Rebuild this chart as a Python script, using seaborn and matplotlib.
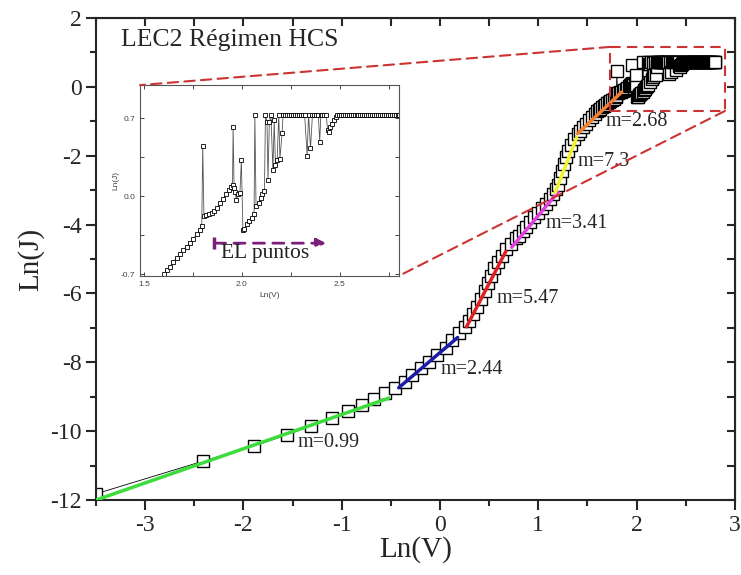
import matplotlib
matplotlib.use('Agg')
import matplotlib.pyplot as plt
from matplotlib.patches import Rectangle, ConnectionPatch
from matplotlib.ticker import MultipleLocator
import seaborn as sns

sns.set_style('ticks')
plt.rcParams['font.family'] = ['Liberation Serif', 'DejaVu Serif']
plt.rcParams['axes.unicode_minus'] = False

# ln(V) / ln(J) below 1.6 V
low_v = [-3.50, -2.41, -1.89, -1.56, -1.31, -1.10, -0.94, -0.79, -0.67, -0.56,
         -0.46, -0.36, -0.28, -0.19, -0.11, -0.03, 0.06, 0.12, 0.19, 0.25,
         0.30, 0.34, 0.38, 0.42, 0.46, 0.49, 0.52, 0.55, 0.59, 0.63,
         0.67, 0.72, 0.77, 0.80, 0.84, 0.88, 0.92, 0.96, 1.00, 1.04,
         1.08, 1.12, 1.15, 1.18, 1.20, 1.22, 1.24, 1.26, 1.28, 1.30,
         1.33, 1.36, 1.40, 1.43, 1.46, 1.49, 1.52, 1.55, 1.58]
low_j = [-11.82, -10.87, -10.43, -10.11, -9.85, -9.62, -9.41, -9.24, -9.06, -8.89,
         -8.74, -8.57, -8.37, -8.16, -7.99, -7.79, -7.58, -7.35, -7.15, -6.97,
         -6.80, -6.60, -6.38, -6.15, -5.92, -5.70, -5.48, -5.27, -5.08, -4.90,
         -4.72, -4.55, -4.40, -4.33, -4.20, -4.07, -3.93, -3.79, -3.65, -3.52,
         -3.39, -3.25, -3.12, -2.98, -2.85, -2.65, -2.45, -2.25, -2.05, -1.85,
         -1.68, -1.52, -1.38, -1.27, -1.17, -1.07, -0.97, -0.88, -0.78]

# ln(V) >= 1.6 (same points in both panels)
zoom_v = [1.600, 1.616, 1.633, 1.650, 1.667, 1.684, 1.701, 1.718, 1.735, 1.752,
          1.770, 1.787, 1.795, 1.800, 1.806, 1.815, 1.830, 1.845, 1.860, 1.875,
          1.890, 1.905, 1.920, 1.935, 1.945, 1.952, 1.955, 1.960, 1.965, 1.972,
          1.980, 1.990, 1.997, 2.005, 2.012, 2.025, 2.035, 2.050, 2.062, 2.066,
          2.072, 2.085, 2.095, 2.105, 2.115, 2.120, 2.128, 2.133, 2.140, 2.148,
          2.158, 2.165, 2.171, 2.180, 2.188, 2.194, 2.205, 2.210, 2.220, 2.230,
          2.240, 2.250, 2.260, 2.270, 2.280, 2.290, 2.300, 2.310, 2.320, 2.333,
          2.340, 2.350, 2.360, 2.370, 2.380, 2.390, 2.397, 2.403, 2.410, 2.420,
          2.430, 2.437, 2.444, 2.452, 2.460, 2.470, 2.478, 2.486, 2.495, 2.505,
          2.515, 2.525, 2.535, 2.545, 2.555, 2.565, 2.575, 2.585, 2.595, 2.605,
          2.615, 2.625, 2.635, 2.645, 2.655, 2.665, 2.675, 2.685, 2.695, 2.705,
          2.715, 2.725, 2.735, 2.745, 2.755, 2.765, 2.775, 2.785, 2.795, 2.800]
zoom_j = [-0.700, -0.665, -0.630, -0.590, -0.550, -0.520, -0.480, -0.450, -0.420, -0.380,
          -0.340, -0.300, -0.268, 0.456, -0.180, -0.165, -0.160, -0.150, -0.130, -0.100,
          -0.060, -0.020, 0.020, 0.060, 0.085, 0.100, 0.625, 0.075, 0.040, -0.030,
          0.020, 0.030, 0.330, -0.300, -0.290, -0.250, -0.220, -0.190, -0.160, 0.735,
          -0.090, -0.060, -0.010, 0.020, 0.045, 0.735, 0.670, 0.150, 0.670, 0.735,
          0.240, 0.685, 0.280, 0.330, 0.735, 0.340, 0.566, 0.735, 0.735, 0.735,
          0.735, 0.735, 0.735, 0.735, 0.735, 0.735, 0.735, 0.735, 0.735, 0.363,
          0.735, 0.432, 0.735, 0.735, 0.735, 0.735, 0.490, 0.735, 0.735, 0.735,
          0.735, 0.600, 0.580, 0.625, 0.655, 0.685, 0.710, 0.735, 0.735, 0.735,
          0.735, 0.735, 0.735, 0.735, 0.735, 0.735, 0.735, 0.735, 0.735, 0.735,
          0.735, 0.735, 0.735, 0.735, 0.735, 0.735, 0.735, 0.735, 0.735, 0.735,
          0.735, 0.735, 0.735, 0.735, 0.735, 0.735, 0.735, 0.735, 0.735, 0.735]

main_v = low_v + zoom_v
main_j = low_j + zoom_j

# linear fits (end points) and slope labels
fit_v0 = [-3.50, -0.42, 0.27, 0.73, 1.17, 1.40]
fit_v1 = [-0.52, 0.18, 0.67, 1.20, 1.39, 1.85]
fit_j0 = [-12.00, -8.74, -6.97, -4.66, -3.08, -1.36]
fit_j1 = [-9.04, -7.28, -4.78, -3.06, -1.48, -0.15]
fit_labels = ['m=0.99', 'm=2.44', 'm=5.47', 'm=3.41', 'm=7.3', 'm=2.68']
label_v = [-1.45, 0.01, 0.58, 1.07, 1.40, 1.69]
label_j = [-10.34, -8.22, -6.16, -3.98, -2.18, -1.02]
fit_colors = ['#3ddc3d', '#1c1ca8', '#e02020', '#e040e0', '#f2f22a', '#f08030']

# zoomed window in main-panel data coords
zoom_box_v = [1.73, 2.90]
zoom_box_j = [-0.70, 1.16]

fig = plt.figure(figsize=(7.41, 5.75), dpi=100)
ax = fig.add_axes([0.1296, 0.1304, 0.862, 0.8383])

sns.lineplot(x=main_v, y=main_j, ax=ax, sort=False, estimator=None,
             color='black', lw=0.6, marker='s', ms=8, mfc='white',
             mec='black', mew=1.0)
for v0, v1, j0, j1, c in zip(fit_v0, fit_v1, fit_j0, fit_j1, fit_colors):
    sns.lineplot(x=[v0, v1], y=[j0, j1], ax=ax, color=c, lw=2.5, zorder=5)
for v, j, s in zip(label_v, label_j, fit_labels):
    ax.text(v, j, s, fontsize=14.5, ha='left', va='center')

ax.text(-3.25, 1.36, 'LEC2 Régimen HCS', fontsize=18.5, ha='left', va='center')

ax.set_xlim(-3.5, 3)
ax.set_ylim(-12, 2)
ax.set_xticks(range(-3, 4))
ax.set_yticks(range(-12, 3, 2))
ax.xaxis.set_minor_locator(MultipleLocator(0.5))
ax.yaxis.set_minor_locator(MultipleLocator(1))
ax.tick_params(which='major', direction='out', length=7, width=1.5, labelsize=17)
ax.tick_params(which='minor', direction='out', length=4, width=1.5)
for sp in ax.spines.values():
    sp.set_linewidth(1.5)
    sp.set_visible(True)

secx = ax.secondary_xaxis('top')
secx.set_xticks(range(-3, 4))
secx.xaxis.set_minor_locator(MultipleLocator(0.5))
secx.tick_params(which='both', direction='in', labeltop=False, length=6, width=1.5)
secy = ax.secondary_yaxis('right')
secy.set_yticks(range(-12, 3, 2))
secy.yaxis.set_minor_locator(MultipleLocator(1))
secy.tick_params(which='both', direction='in', labelright=False, length=6, width=1.5)

ax.set_xlabel('Ln(V)', fontsize=21, labelpad=0)
ax.set_ylabel('Ln(J)', fontsize=21, labelpad=4)

ax.add_patch(Rectangle((zoom_box_v[0], zoom_box_j[0]),
                       zoom_box_v[1] - zoom_box_v[0], zoom_box_j[1] - zoom_box_j[0],
                       fill=False, ec='#cc3333', lw=1.5, ls=(0, (5, 3)), zorder=6))

# inset
axin = fig.add_axes([0.189, 0.52, 0.349, 0.332])
sns.lineplot(x=zoom_v, y=zoom_j, ax=axin, sort=False, estimator=None,
             color='#555555', lw=0.6, marker='s', ms=3.3, mfc='white',
             mec='black', mew=0.6)
axin.set_xlim(1.48, 2.80)
axin.set_ylim(-0.715, 1.0)
axin.set_xticks([1.5, 2.0, 2.5])
axin.set_yticks([-0.7, 0.0, 0.7])
axin.xaxis.set_minor_locator(MultipleLocator(0.25))
axin.yaxis.set_minor_locator(MultipleLocator(0.35))
axin.tick_params(which='both', direction='in', top=True, right=True,
                 length=3, width=0.6, labelsize=6, labelcolor='#444444')
for lab in axin.get_xticklabels() + axin.get_yticklabels():
    lab.set_family(['Liberation Sans', 'DejaVu Sans'])
for sp in axin.spines.values():
    sp.set_linewidth(0.8)
    sp.set_color('#555555')
axin.set_xlabel('Ln(V)', fontsize=6, family=['Liberation Sans', 'DejaVu Sans'],
                color='#444444', labelpad=3)
axin.set_ylabel('Ln(J)', fontsize=6, family=['Liberation Sans', 'DejaVu Sans'],
                color='#444444', labelpad=1)

purple = '#7b1f7b'
axin.annotate('', xy=(2.43, -0.42), xytext=(1.86, -0.42),
              arrowprops=dict(arrowstyle='-|>', color=purple, lw=2, ls=(0, (4, 3)),
                              mutation_scale=14, shrinkA=0, shrinkB=0))
axin.plot([1.86], [-0.42], marker='|', ms=9, mew=2.5, color=purple)
axin.text(2.12, -0.51, 'EL puntos', fontsize=15.5, ha='center', va='center',
          color='#222222')

for xy_main, xy_in in [((zoom_box_v[0], zoom_box_j[1]), (0, 1)),
                       ((zoom_box_v[1], zoom_box_j[0]), (1, 0))]:
    con = ConnectionPatch(xyA=xy_main, coordsA=ax.transData,
                          xyB=xy_in, coordsB=axin.transAxes,
                          color='#cc3333', lw=1.5, ls=(0, (5, 3)))
    fig.add_artist(con)

fig.savefig('out.png', dpi=100)
